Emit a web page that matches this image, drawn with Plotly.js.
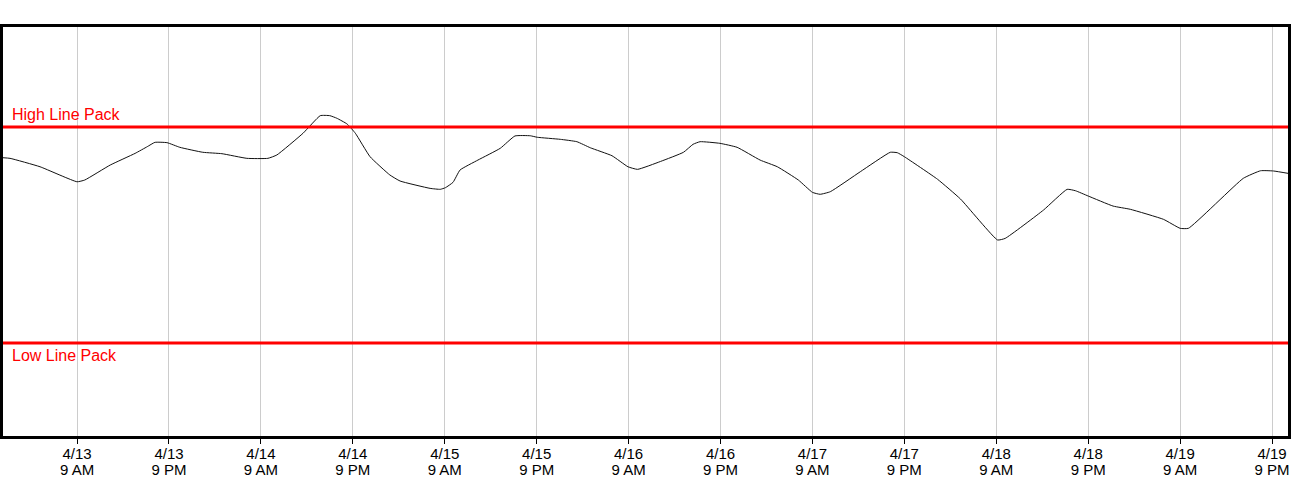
<!DOCTYPE html>
<html>
<head>
<meta charset="utf-8">
<script src="https://cdn.plot.ly/plotly-3.0.1.min.js"></script>
<style>html,body{margin:0;padding:0;background:#fff;}#chart{width:1300px;height:500px;}</style>
</head>
<body>
<div id="chart"></div>
<script>
const times = [
 '2024-04-12 23:15','2024-04-13 00:15','2024-04-13 04:10','2024-04-13 09:00','2024-04-13 10:00',
 '2024-04-13 13:20','2024-04-13 16:35','2024-04-13 18:10','2024-04-13 19:10','2024-04-13 20:45',
 '2024-04-13 22:25','2024-04-14 01:25','2024-04-14 03:55','2024-04-14 07:10','2024-04-14 09:55',
 '2024-04-14 11:05','2024-04-14 14:30','2024-04-14 16:45','2024-04-14 18:00','2024-04-14 18:55',
 '2024-04-14 20:15','2024-04-14 21:20','2024-04-14 23:15','2024-04-15 01:50','2024-04-15 03:10',
 '2024-04-15 07:05','2024-04-15 08:25','2024-04-15 09:05','2024-04-15 10:05','2024-04-15 11:00',
 '2024-04-15 13:20','2024-04-15 16:15','2024-04-15 18:10','2024-04-15 20:10','2024-04-15 21:05',
 '2024-04-16 00:05','2024-04-16 02:15','2024-04-16 04:00','2024-04-16 06:50','2024-04-16 08:55',
 '2024-04-16 10:10','2024-04-16 13:10','2024-04-16 16:10','2024-04-16 17:25','2024-04-16 18:20',
 '2024-04-16 20:55','2024-04-16 23:10','2024-04-17 02:10','2024-04-17 04:25','2024-04-17 07:10',
 '2024-04-17 09:00','2024-04-17 10:00','2024-04-17 11:20','2024-04-17 15:15','2024-04-17 19:10',
 '2024-04-17 20:05','2024-04-17 21:00','2024-04-18 01:20','2024-04-18 04:20','2024-04-18 09:10',
 '2024-04-18 10:10','2024-04-18 15:10','2024-04-18 18:15','2024-04-18 19:20','2024-04-18 21:00',
 '2024-04-19 00:15','2024-04-19 02:30','2024-04-19 06:50','2024-04-19 09:00','2024-04-19 10:05',
 '2024-04-19 17:15','2024-04-19 19:30','2024-04-19 21:10','2024-04-19 23:15'
];
const linePack = [
 2421.6,2421.0,2413.2,2399.3,2400.9,
 2414.8,2425.6,2431.8,2435.8,2435.5,
 2431.2,2426.6,2425.3,2421.0,2421.0,
 2424.1,2444.2,2460.5,2460.5,2458.1,
 2452.8,2444.2,2422.5,2405.6,2400.0,
 2393.2,2392.3,2393.8,2398.8,2410.2,
 2419.4,2430.3,2441.7,2441.9,2440.5,
 2438.6,2436.4,2430.8,2423.4,2413.2,
 2410.8,2418.1,2426.6,2434.0,2436.4,
 2434.9,2431.2,2419.4,2413.2,2400.9,
 2389.5,2387.7,2390.1,2408.6,2426.6,
 2426.2,2422.5,2401.6,2383.3,2345.4,
 2346.9,2373.1,2392.3,2391.0,2386.1,
 2376.8,2373.8,2364.5,2356.2,2356.2,
 2402.5,2409.5,2409.3,2406.9
];
const highLinePack = 2450;
const lowLinePack = 2250;
const highLabel = 'High Line Pack';
const lowLabel = 'Low Line Pack';
const xRange = ['2024-04-12 23:20','2024-04-19 23:05'];
const yRange = [2163.9, 2542.6];
const firstTick = '2024-04-13 09:00';
const tickStepHours = 12;

const FONT = 'Liberation Sans, Arial, sans-serif';

const data = [
  {x: times, y: linePack, type: 'scatter', mode: 'lines',
   line: {color: '#111', width: 1, shape: 'spline', smoothing: 0.4},
   hoverinfo: 'x+y', showlegend: false},
  {x: times, y: linePack, type: 'scatter', mode: 'lines', xaxis: 'x2',
   line: {color: 'rgba(0,0,0,0)', width: 0}, hoverinfo: 'skip', showlegend: false}
];

const commonX = {
  type: 'date', range: xRange,
  tick0: firstTick, dtick: tickStepHours*3600*1000, tickmode: 'linear',
  zeroline: false,
  tickfont: {family: FONT, size: 15, color: '#000'}
};

const layout = {
  width: 1300, height: 500,
  margin: {l: 3, r: 12, t: 27, b: 64},
  paper_bgcolor: '#fff', plot_bgcolor: '#fff',
  showlegend: false,
  font: {family: FONT, size: 15, color: '#000'},
  xaxis: Object.assign({}, commonX, {
    tickformat: '%-m/%-d',
    showgrid: true, gridcolor: '#cccccc', gridwidth: 1,
    ticks: 'outside', ticklen: 5, tickcolor: '#000', tickwidth: 1,
    ticklabelstandoff: -3,
    showline: true, linecolor: '#000', linewidth: 3, mirror: true
  }),
  xaxis2: Object.assign({}, commonX, {
    tickformat: '%-I %p', overlaying: 'x', matches: 'x', anchor: 'y', side: 'bottom',
    showgrid: false, showline: false, ticks: '',
    ticklabelstandoff: 23
  }),
  yaxis: {
    range: yRange, showticklabels: false, showgrid: false, zeroline: false,
    ticks: '', showline: true, linecolor: '#000', linewidth: 3, mirror: true
  },
  shapes: [
    {type: 'line', xref: 'paper', x0: 0, x1: 1, yref: 'y', y0: highLinePack, y1: highLinePack,
     line: {color: '#ff0000', width: 3}},
    {type: 'line', xref: 'paper', x0: 0, x1: 1, yref: 'y', y0: lowLinePack, y1: lowLinePack,
     line: {color: '#ff0000', width: 3}}
  ],
  annotations: [
    {xref: 'paper', x: 0, xshift: 7, yref: 'y', y: highLinePack, yshift: 2, text: highLabel,
     showarrow: false, xanchor: 'left', yanchor: 'bottom',
     font: {family: FONT, size: 16, color: '#ff0000'}},
    {xref: 'paper', x: 0, xshift: 7, yref: 'y', y: lowLinePack, yshift: -2, text: lowLabel,
     showarrow: false, xanchor: 'left', yanchor: 'top',
     font: {family: FONT, size: 16, color: '#ff0000'}}
  ]
};

Plotly.newPlot('chart', data, layout, {displayModeBar: false, staticPlot: true});
</script>
</body>
</html>
